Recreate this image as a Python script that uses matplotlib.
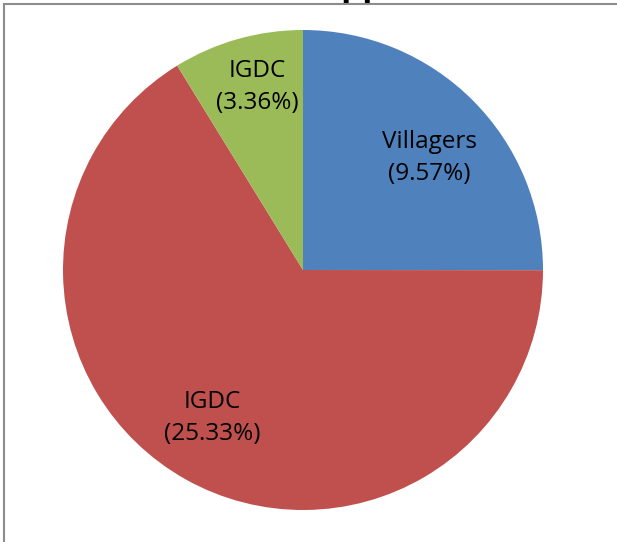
import numpy as np
import matplotlib
matplotlib.use("Agg")
import matplotlib.pyplot as plt
from matplotlib.patches import Rectangle

labels = ["Villagers", "IGDC", "IGDC"]
values = [9.57, 25.33, 3.36]
colors = ["#4F81BD", "#C0504D", "#9BBB59"]
label_radius = [0.705, 0.725, 0.785]
label_angle = [41.5, 238.5, 104.0]

W, H = 617, 542
fig = plt.figure(figsize=(W / 100, H / 100), dpi=100)
ax = fig.add_axes([0, 0, 1, 1])

cx, cy, R = 303, 270, 240
wedges, _ = ax.pie(values, colors=colors, startangle=90, counterclock=False,
                   radius=1.0, center=(0, 0),
                   wedgeprops=dict(linewidth=0, antialiased=True))
ax.set_xlim(-cx / R, (W - cx) / R)
ax.set_ylim(-(H - cy) / R, cy / R)
ax.set_aspect("equal")
ax.axis("off")

for lab, v, r, a in zip(labels, values, label_radius, label_angle):
    ang = np.deg2rad(a)
    ax.text(r * np.cos(ang), r * np.sin(ang), f"{lab}\n({v:.2f}%)",
            ha="center", va="center", fontsize=17.5, family="Open Sans",
            color="black", linespacing=1.45)

# chart frame (partially visible)
fig.patches.append(Rectangle((3.5 / W, -0.1), 1.2, 1 - 3.5 / H + 0.1,
                             transform=fig.transFigure, fill=False,
                             edgecolor="#8c8c8c", linewidth=1.5))

# title, mostly clipped above the visible area
fig.text(608 / W, 1 + 5 / H, "Share of Benefits (Copper Mine Area)",
         ha="right", va="baseline", fontsize=24, fontweight="bold",
         family="Open Sans", color="black")

fig.savefig("out.png", dpi=100)
